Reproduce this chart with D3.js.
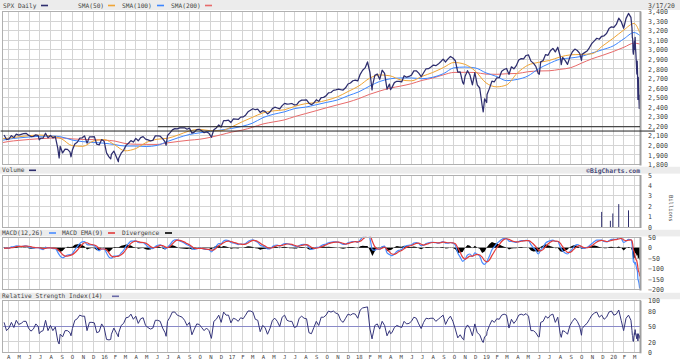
<!DOCTYPE html>
<html><head><meta charset="utf-8">
<script src="https://cdn.jsdelivr.net/npm/d3@7/dist/d3.min.js"></script>
<style>
html,body{margin:0;padding:0;background:#fff;}
svg{display:block;}
text{font-family:"DejaVu Sans Mono","Liberation Mono",monospace;}
</style></head><body>
<svg id="chart" width="680" height="360"></svg>
<script>
// ---------- DATA (weekly samples, Fridays from 2015-03-20 to 2020-02-21) ----------
const weeklyClose = [
2108,2061,2067,2102,2081,2117,2108,2116,2123,2126,2107,2092,2094,2110,2102,2077,2077,2127,2080,2104,2078,2092,1971,1989,1921,1961,1958,1932,1951,2014,2033,2075,2079,2099,2023,2089,2090,2092,2012,2005,2061,2044,
1922,1880,1907,1940,1880,1865,1918,1948,2000,2022,2050,2035,2073,2048,2081,2092,2065,2057,2047,2052,2099,2099,2096,2071,2037,2103,2130,2162,2175,2173,2183,2184,2184,2169,2180,2128,2139,2165,2168,2153,2133,2141,2126,2085,2164,2182,2213,2192,2259,2258,2263,2239,
2277,2275,2271,2295,2297,2316,2351,2367,2383,2373,2378,2344,2363,2355,2329,2349,2384,2399,2391,2382,2416,2439,2432,2433,2438,2423,2425,2459,2473,2472,2476,2441,2426,2444,2477,2461,2500,2502,2519,2549,2553,2575,2581,2588,2582,2579,2602,2642,2652,2676,2683,2674,
2743,2786,2810,2873,2762,2620,2732,2747,2691,2786,2752,2588,2641,2604,2656,2670,2670,2663,2728,2713,2721,2735,2779,2780,2755,2718,2760,2801,2802,2819,2840,2833,2850,2875,2902,2872,2905,2930,2914,2885,2767,2768,2658,2723,2781,2736,2633,2760,2633,2600,2417,2486,
2532,2596,2671,2665,2707,2708,2776,2793,2804,2743,2822,2801,2834,2893,2907,2905,2940,2946,2881,2860,2826,2752,2873,2887,2950,2942,2990,3014,2977,3026,2932,2919,2889,2847,2926,2979,3007,2992,2962,2952,2970,2986,3023,3067,3093,3120,3110,3141,3146,3169,3221,3240,
3235,3265,3330,3295,3225,3328,3380,3338];
const weeklyMacd = [
0,-3,-2,4,5,9,8,6,8,9,5,0,-2,0,1,-5,-9,2,-1,0,-4,-4,-22,-40,-48,-42,-35,-33,-28,-10,5,20,28,30,15,14,14,10,-5,-15,-6,-5,
-25,-45,-50,-40,-40,-38,-25,-12,8,20,32,32,33,25,24,24,15,5,-2,-4,6,12,14,6,-5,2,15,30,38,38,32,28,22,14,10,-2,-8,-4,-2,-3,-7,-8,-9,-20,-6,8,20,20,32,36,34,25,
23,20,15,18,16,20,30,36,38,32,26,12,8,3,-5,-5,5,12,13,8,14,20,20,16,14,8,4,10,15,16,14,2,-8,-6,2,2,10,15,18,24,26,28,28,27,22,16,16,24,27,30,30,26,
38,50,58,68,45,-10,-12,-5,-8,5,8,-25,-32,-38,-30,-18,-12,-8,5,10,12,14,22,25,20,10,12,20,24,26,26,24,22,26,30,22,22,25,22,12,-25,-45,-65,-55,-35,-30,-42,-25,-32,-40,-70,-80,
-65,-40,-10,5,20,30,40,45,44,32,30,28,26,30,34,34,35,34,15,0,-12,-30,-10,3,22,30,34,36,30,30,5,-15,-25,-30,-18,-5,10,15,10,-2,-3,2,10,20,30,36,36,36,30,28,34,40,
40,40,48,45,25,32,40,38];
const weeklySignal = [
-3,-2,-2,0,2,5,7,7,7,8,7,5,2,0,0,-1,-4,-3,-1,-1,-2,-3,-8,-20,-33,-40,-40,-37,-33,-24,-12,2,15,24,24,18,15,13,7,-3,-6,-6,
-10,-25,-40,-44,-42,-40,-34,-24,-8,7,21,29,32,30,26,25,22,15,6,0,1,6,11,10,4,1,6,18,30,36,35,32,27,20,14,6,-2,-4,-3,-3,-5,-7,-8,-12,-10,-2,10,16,24,30,32,30,
26,23,19,17,16,17,23,30,35,34,30,22,14,8,1,-2,0,6,10,10,11,15,18,18,16,12,8,8,11,14,15,10,2,-3,-2,0,4,9,14,19,23,26,27,27,25,21,18,20,24,27,29,28,
31,40,50,60,58,30,5,-5,-6,-2,3,-8,-20,-30,-32,-26,-18,-13,-5,3,8,11,16,21,22,17,13,16,20,24,25,25,23,24,27,26,24,24,23,19,0,-22,-45,-55,-48,-40,-40,-35,-32,-35,-45,-62,
-68,-58,-38,-18,0,15,30,40,43,40,34,30,28,28,31,33,34,34,28,18,5,-10,-15,-8,5,18,27,33,32,31,22,5,-10,-22,-22,-14,-3,6,10,4,0,0,4,10,19,28,33,35,33,30,31,35,
38,39,42,45,38,34,36,38];
const weeklyRsi = [
58,42,47,58,48,62,54,56,60,60,47,41,45,55,50,40,42,62,42,52,42,49,22,35,30,42,42,38,46,62,65,72,70,70,42,58,58,57,38,40,55,48,
25,24,35,47,38,38,52,56,67,68,74,64,70,56,65,67,52,48,45,47,62,62,60,47,38,60,68,78,78,72,70,68,62,52,58,34,45,55,54,48,42,47,42,27,60,64,72,58,78,72,72,57,
66,64,60,67,65,72,80,80,78,64,62,40,52,48,35,46,62,66,60,50,68,72,62,60,60,48,50,66,70,66,65,38,36,48,60,52,68,68,72,80,78,80,76,74,62,58,66,74,72,75,74,66,
82,86,87,88,45,30,52,55,45,60,52,32,42,38,48,52,50,48,60,55,56,60,68,66,55,46,58,66,65,66,66,60,64,68,72,54,64,70,60,45,28,34,26,45,53,46,32,55,38,34,22,30,
40,52,62,58,65,64,72,74,72,47,64,56,62,72,74,72,75,70,42,42,38,30,58,60,70,66,72,74,58,68,36,42,40,35,52,60,66,60,50,46,52,56,64,72,76,78,68,72,64,68,78,80,
72,74,82,62,42,66,72,62];

// extreme days inside weeks (close, RSI)
const keyDayDates = ["2015-06-29","2015-08-24","2015-08-25","2015-09-28","2016-01-20","2016-02-11","2016-06-27","2018-02-08","2018-04-02","2018-10-29","2018-12-24","2019-01-03","2019-06-03","2019-08-05","2019-10-02"];
const keyDayClose = [2058,1893,1868,1881,1859,1829,2001,2581,2582,2641,2351,2448,2744,2844,2888];
const keyDayRsi   = [36,17,16,32,25,30,31,26,36,24,19,33,30,29,33];

// daily values for the final sell-off
const crashDates = ["2020-02-24","2020-02-25","2020-02-26","2020-02-27","2020-02-28","2020-03-02","2020-03-03","2020-03-04","2020-03-05","2020-03-06","2020-03-09","2020-03-10","2020-03-11","2020-03-12","2020-03-13","2020-03-16","2020-03-17"];
const crashClose  = [3226,3128,3116,2979,2954,3090,3003,3130,3024,2972,2746,2882,2741,2481,2711,2386,2529];
const crashMacd   = [20,0,-18,-45,-68,-70,-78,-70,-72,-80,-103,-108,-120,-150,-155,-180,-195];
const crashSignal = [33,27,18,5,-10,-22,-33,-41,-47,-54,-64,-73,-82,-96,-108,-122,-137];
const crashRsi    = [42,33,32,22,21,38,34,44,38,35,26,36,30,22,36,27,33];

// moving averages: 2015-03-17, first of each month Apr 2015..Mar 2020, 2020-03-17
const sma50 = [2070,2075,2090,2102,2108,2097,2068,1998,1990,2045,
2061,2004,1943,1967,2030,2064,2074,2109,2150,2168,2153,2153,
2193,2248,2292,2340,2361,2372,2408,2436,2448,2472,2508,2563,
2621,2702,2737,2727,2685,2675,2721,2762,2814,2867,2848,2778,
2654,2612,2632,2757,2838,2868,2887,2924,2947,2951,2958,3038,
3120,3208,3275,3180];
const sma100 = [2055,2065,2078,2088,2095,2098,2088,2056,2039,2030,
2023,2008,1993,1993,1988,2000,2041,2080,2113,2131,2147,2160,
2177,2200,2231,2290,2325,2350,2385,2400,2425,2450,2475,2519,
2560,2620,2667,2696,2705,2705,2697,2712,2750,2811,2819,2810,
2758,2720,2677,2690,2725,2801,2855,2900,2914,2930,2965,3000,
3040,3115,3180,3150];
const sma200 = [2030,2040,2052,2062,2070,2076,2078,2068,2062,2060,
2055,2045,2020,2012,2010,2010,2026,2041,2054,2064,2084,2110,
2139,2160,2188,2224,2245,2266,2301,2332,2363,2394,2424,2452,
2489,2534,2567,2599,2620,2645,2679,2704,2738,2763,2764,2762,
2745,2743,2749,2752,2770,2778,2780,2795,2812,2858,2905,2941,
2981,3026,3069,3060];

// volume (billions) – only a few bars are shown
const volDates = ["2019-11-29","2019-12-24","2019-12-31","2020-01-17","2020-02-14"];
const volValues = [1.45,0.6,1.3,2.2,1.6];

// horizontal reference lines on the price panel
const refLevels = [2195,2150];
const refStarts = ["2016-06-03","2015-03-10"];

const priceTicks = d3.range(1800,3401,100);
const volTicks = [0,1,2,3,4,5];
const macdTicks = [50,0,-50,-100,-150,-200];
const rsiTicks = [100,80,50,20,0];
const monthLetters = ["J","F","M","A","M","J","J","A","S","O","N","D"];

// ---------- BUILD SERIES ----------
const parse = d3.timeParse("%Y-%m-%d");
const weekDates = d3.timeFriday.range(new Date(2015,2,20), new Date(2020,1,22));
const priceSeries = weekDates.map((d,i)=>({date:d, v:weeklyClose[i]}))
  .concat(keyDayDates.map((s,i)=>({date:parse(s), v:keyDayClose[i]})))
  .concat(crashDates.map((s,i)=>({date:parse(s), v:crashClose[i]})))
  .sort((a,b)=>a.date-b.date);
const rsiSeries = weekDates.map((d,i)=>({date:d, v:weeklyRsi[i]}))
  .concat(keyDayDates.map((s,i)=>({date:parse(s), v:keyDayRsi[i]})))
  .concat(crashDates.map((s,i)=>({date:parse(s), v:crashRsi[i]})))
  .sort((a,b)=>a.date-b.date);
const macdSeries = weekDates.map((d,i)=>({date:d, m:weeklyMacd[i], s:weeklySignal[i]}))
  .concat(crashDates.map((s,i)=>({date:parse(s), m:crashMacd[i], s:crashSignal[i]})));
const smaDates = [new Date(2015,2,17)].concat(d3.timeMonth.range(new Date(2015,3,1), new Date(2020,2,2))).concat([new Date(2020,2,17)]);
const smaSeries = [sma50, sma100, sma200].map(arr => arr.map((v,i)=>({date:smaDates[i], v})));

// ---------- LAYOUT ----------
const svg = d3.select("#chart");
const X0 = 2, X1 = 640;
const x = d3.scaleTime().domain([new Date(2015,2,14), new Date(2020,2,18)]).range([X0, X1]);
const months = d3.timeMonth.range(new Date(2015,3,1), new Date(2020,2,2));

const P = {
  main: {top:11.5, bottom:164.5, y:d3.scaleLinear().domain([1800,3400]).range([164.5,11.5])},
  vol:  {top:175, bottom:227, y:d3.scaleLinear().domain([0,5]).range([227,175])},
  macd: {top:237.3, bottom:289.5, y:d3.scaleLinear().domain([-200,50]).range([289.5,237.3])},
  rsi:  {top:300.7, bottom:352.3, y:d3.scaleLinear().domain([0,100]).range([352.3,300.7])}
};

const GRID = "#d4d4d4", BAND = "#ececec", TXT = "#444";

// header bands
[[0,10],[166.8,6.8],[229.8,6.6],[292.8,6.4]].forEach(([y,h])=>{
  svg.append("rect").attr("x",0).attr("y",y).attr("width",680).attr("height",h).attr("fill",BAND);
});

function panel(name, hTicks, special){
  const p = P[name];
  const g = svg.append("g");
  g.append("rect").attr("x",X0).attr("y",p.top).attr("width",X1-X0).attr("height",p.bottom-p.top).attr("fill","#fff");
  g.selectAll("line.v").data(months).join("line")
    .attr("x1",d=>x(d)).attr("x2",d=>x(d)).attr("y1",p.top).attr("y2",p.bottom)
    .attr("stroke",GRID).attr("stroke-width",1).attr("shape-rendering","crispEdges");
  g.selectAll("line.h").data(hTicks).join("line")
    .attr("x1",X0).attr("x2",X1).attr("y1",d=>p.y(d)).attr("y2",d=>p.y(d))
    .attr("stroke",d=> special && special[d] ? special[d] : GRID).attr("stroke-width",1).attr("shape-rendering","crispEdges");
  svg.append("clipPath").attr("id","clip-"+name).append("rect")
    .attr("x",X0).attr("y",p.top-0.5).attr("width",X1-X0).attr("height",p.bottom-p.top+1);
  return g;
}
function border(name){
  const p = P[name];
  svg.append("rect").attr("x",X0).attr("y",p.top).attr("width",X1-X0).attr("height",p.bottom-p.top)
    .attr("fill","none").attr("stroke","#b0b0b0").attr("stroke-width",1).attr("shape-rendering","crispEdges");
  svg.append("line").attr("x1",X1+0.5).attr("x2",X1+0.5).attr("y1",p.top).attr("y2",p.bottom+1)
    .attr("stroke","#a0a0a0").attr("stroke-width",2);
}
function rightAxis(name, ticks, fmt){
  const g = svg.append("g").attr("transform",`translate(${X1},0)`)
    .call(d3.axisRight(P[name].y).tickValues(ticks).tickSize(0).tickPadding(8).tickFormat(fmt));
  g.select(".domain").remove();
  g.selectAll("text").attr("font-size","6.6px").attr("fill",TXT).attr("font-family",'"DejaVu Sans Mono",monospace');
}

// ---- main price panel
panel("main", priceTicks);
const cm = svg.append("g").attr("clip-path","url(#clip-main)");
const smaColors = ["#f0a535","#3d86ff","#e86a6a"];
[2,1,0].forEach(k=>{
  cm.append("path").datum(smaSeries[k])
    .attr("d", d3.line().x(d=>x(d.date)).y(d=>P.main.y(d.v)).curve(d3.curveMonotoneX))
    .attr("fill","none").attr("stroke",smaColors[k]).attr("stroke-width",1);
});
cm.append("path").datum(priceSeries)
  .attr("d", d3.line().x(d=>x(d.date)).y(d=>P.main.y(d.v)))
  .attr("fill","none").attr("stroke","#2e2e6e").attr("stroke-width",1.25).attr("stroke-linejoin","round");
border("main");
// reference lines
svg.selectAll("line.ref").data(refLevels).join("line")
  .attr("x1",(d,i)=>Math.max(0,x(parse(refStarts[i])))).attr("x2",(d,i)=> i===0 ? X1 : 655)
  .attr("y1",d=>P.main.y(d)).attr("y2",d=>P.main.y(d))
  .attr("stroke","#222").attr("stroke-width",1);
rightAxis("main", priceTicks, d3.format(","));

// ---- volume panel
panel("vol", volTicks);
svg.append("g").attr("clip-path","url(#clip-vol)").selectAll("line").data(volDates).join("line")
  .attr("x1",d=>x(parse(d))).attr("x2",d=>x(parse(d)))
  .attr("y1",P.vol.y(0)).attr("y2",(d,i)=>P.vol.y(volValues[i]))
  .attr("stroke","#2e2e6e").attr("stroke-width",1);
border("vol");
rightAxis("vol", volTicks, d3.format("d"));
svg.append("text").attr("transform","translate(669,195) rotate(90)").attr("font-size","5.5px").attr("fill",TXT).text("Billions");

// ---- MACD panel
panel("macd", macdTicks, {0:"#b8b8b8"});
const cmd = svg.append("g").attr("clip-path","url(#clip-macd)");
cmd.append("path").datum(macdSeries)
  .attr("d", d3.area().x(d=>x(d.date)).y0(P.macd.y(0)).y1(d=>P.macd.y(d.m-d.s)))
  .attr("fill","#000");
cmd.append("path").datum(macdSeries)
  .attr("d", d3.line().x(d=>x(d.date)).y(d=>P.macd.y(d.m)).curve(d3.curveMonotoneX))
  .attr("fill","none").attr("stroke","#4a8cff").attr("stroke-width",1.2);
cmd.append("path").datum(macdSeries)
  .attr("d", d3.line().x(d=>x(d.date)).y(d=>P.macd.y(d.s)).curve(d3.curveMonotoneX))
  .attr("fill","none").attr("stroke","#e23a3a").attr("stroke-width",1.2);
border("macd");
rightAxis("macd", macdTicks, d3.format("d"));

// ---- RSI panel
panel("rsi", rsiTicks, {50:"#8a8ac8"});
svg.append("g").attr("clip-path","url(#clip-rsi)").append("path").datum(rsiSeries)
  .attr("d", d3.line().x(d=>x(d.date)).y(d=>P.rsi.y(d.v)))
  .attr("fill","none").attr("stroke","#34347a").attr("stroke-width",1);
border("rsi");
rightAxis("rsi", rsiTicks, d3.format("d"));

// ---- bottom month axis
const xa = svg.append("g").attr("transform",`translate(0,${P.rsi.bottom})`)
  .call(d3.axisBottom(x).tickValues(months).tickSize(0).tickPadding(2.5)
    .tickFormat(d => d.getMonth()===0 ? d3.timeFormat("%y")(d) : monthLetters[d.getMonth()]));
xa.select(".domain").remove();
xa.selectAll("text").attr("font-size","5.6px").attr("fill",TXT).attr("font-family",'"DejaVu Sans Mono",monospace');

// ---- legends
function legend(y, items){
  items.forEach(it=>{
    svg.append("text").attr("x",it.x).attr("y",y).attr("font-size","6.2px").attr("fill",TXT).text(it.t);
    if(it.c) svg.append("line").attr("x1",it.sx).attr("x2",it.sx+7).attr("y1",y-2).attr("y2",y-2)
      .attr("stroke",it.c).attr("stroke-width",1.6);
  });
}
legend(7.5, [{x:3,t:"SPX Daily",sx:41,c:"#2e2e6e"},{x:78,t:"SMA(50)",sx:108,c:"#f0a535"},
  {x:122,t:"SMA(100)",sx:157,c:"#3d86ff"},{x:171,t:"SMA(200)",sx:205,c:"#e86a6a"}]);
legend(172.3, [{x:2,t:"Volume",sx:29,c:"#2e2e6e"}]);
legend(235, [{x:2,t:"MACD(12,26)",sx:49,c:"#4a8cff"},{x:62,t:"MACD EMA(9)",sx:108,c:"#e23a3a"},
  {x:122,t:"Divergence",sx:165,c:"#000"}]);
legend(298.3, [{x:2,t:"Relative Strength Index(14)",sx:112,c:"#6a6aa8"}]);
svg.append("text").attr("x",648).attr("y",7.5).attr("font-size","6.4px").attr("fill",TXT).text("3/17/20");
svg.append("text").attr("x",640).attr("y",172.5).attr("text-anchor","end").attr("font-size","6.4px")
  .attr("font-weight","bold").attr("fill","#4a4a78").attr("font-family","DejaVu Sans, sans-serif").text("\u00A9BigCharts.com");
</script></body></html>
